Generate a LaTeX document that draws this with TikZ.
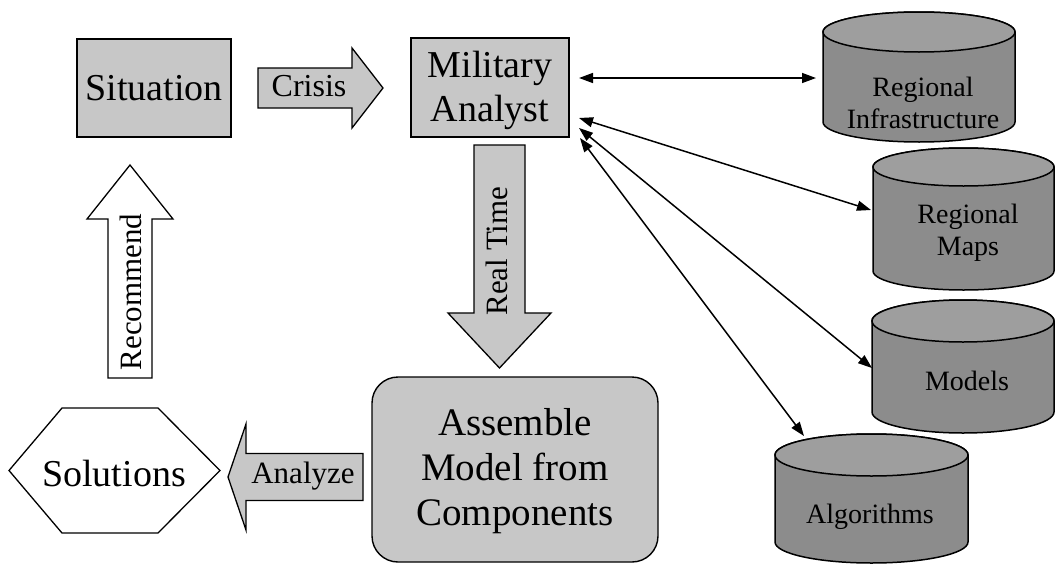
\documentclass[tikz,border=0pt]{standalone}
\usepackage{fontspec}
\setmainfont{Liberation Serif}
\usetikzlibrary{arrows.meta}
\definecolor{lightfill}{gray}{0.78}
\definecolor{cylfill}{gray}{0.55}
\definecolor{cyltop}{gray}{0.62}
\begin{document}
\begin{tikzpicture}[x=1pt,y=-1pt,
  box/.style={draw, line width=1.6pt, fill=lightfill, inner sep=0pt},
  blk/.style={draw, line width=1.3pt, fill=lightfill, line join=miter},
  wblk/.style={draw, line width=1.3pt, fill=white, line join=miter},
  bigtxt/.style={font=\fontsize{38}{44}\selectfont, align=center, inner sep=0pt},
  lbl/.style={font=\fontsize{31}{36}\selectfont, inner sep=0pt},
  cyltxt/.style={font=\fontsize{28}{32}\selectfont, align=center, inner sep=0pt},
  cylbody/.style={draw, line width=1.5pt, fill=cylfill},
  cyltopst/.style={draw, line width=1.5pt, fill=cyltop},
  conn/.style={line width=1.5pt, {Triangle[length=14pt,width=10pt]}-{Triangle[length=14pt,width=10pt]}}
]
\useasboundingbox (0,0) rectangle (1055,565);
\fill[white] (0,0) rectangle (1055,565);

% cylinders
\newcommand{\mycyl}[5]{% cx, rx, ytop, ybot, ry
  \pgfmathsetmacro{\xa}{#1-#2}\pgfmathsetmacro{\xb}{#1+#2}
  \path[cylbody] (\xa,#3) -- (\xa,#4) arc[start angle=180,end angle=360,x radius=#2pt,y radius=#5pt] -- (\xb,#3) arc[start angle=0,end angle=180,x radius=#2pt,y radius=#5pt] -- cycle;
  \path[cyltopst] (#1,#3) ellipse[x radius=#2pt,y radius=#5pt];
}
\mycyl{919}{96}{32}{122}{20}
\mycyl{963.5}{90.5}{167}{271}{19}
\mycyl{963}{91}{321}{412}{21}
\mycyl{871.5}{96.5}{455}{542}{21}

\node[cyltxt] (infra) at (923,103) {Regional\\Infrastructure};
\node[cyltxt] (maps) at (968,233) {Regional\\Maps};
\node[cyltxt] (models) at (967,381) {Models};
\node[cyltxt] (algo) at (870,517) {Algorithms};

% main boxes
\node[box, minimum width=154pt, minimum height=98pt] (sit) at (154,88) {};
\node[bigtxt] (sittxt) at (154,88) {Situation};
\node[box, minimum width=158pt, minimum height=99pt] (ma) at (490,87.5) {};
\node[bigtxt] (matxt) at (490,90) {Military\\Analyst};
\node[box, line width=1.4pt, rounded corners=26pt, minimum width=286pt, minimum height=185pt] (asm) at (515,469.5) {};
\node[bigtxt, font=\fontsize{39}{45}\selectfont] (asmtxt) at (515,471) {Assemble\\Model from\\Components};

% hexagon
\draw[line width=1.3pt, fill=white, line join=miter] (9,470.5) -- (62,408) -- (158,408) -- (220,470.5) -- (158,533) -- (62,533) -- cycle;
\node[bigtxt] (sol) at (114,473) {Solutions};

% block arrows
\draw[blk] (258,68) -- (352,68) -- (352,48) -- (383,88) -- (352,128) -- (352,108) -- (258,108) -- cycle;
\node[lbl, font=\fontsize{32}{36}\selectfont] (crisis) at (309,86) {Crisis};

\draw[blk] (474,145) -- (525,145) -- (525,313) -- (551,313) -- (499.5,368) -- (448,313) -- (474,313) -- cycle;
\node[lbl, rotate=90] (rt) at (497,251) {Real Time};

\draw[wblk] (108,378) -- (108,219) -- (87,219) -- (130,165) -- (173,219) -- (152,219) -- (152,378) -- cycle;
\node[lbl, rotate=90] (rec) at (131,292) {Recommend};

\draw[blk] (363,453.5) -- (246,453.5) -- (246,424) -- (228,477) -- (246,530) -- (246,500.5) -- (363,500.5) -- cycle;
\node[lbl] (ana) at (303,476) {Analyze};

% connectors
\coordinate (s1) at (579,78);
\coordinate (s2) at (579,118);
\coordinate (s3) at (579,128);
\coordinate (s4) at (580,138);
\coordinate (e1) at (816,78);
\coordinate (e2) at (871,210);
\coordinate (e3) at (872,368);
\coordinate (e4) at (804,436);
\draw[conn] (s1) -- (e1);
\draw[conn] (s2) -- (e2);
\draw[conn] (s3) -- (e3);
\draw[conn] (s4) -- (e4);
\end{tikzpicture}
\end{document}
